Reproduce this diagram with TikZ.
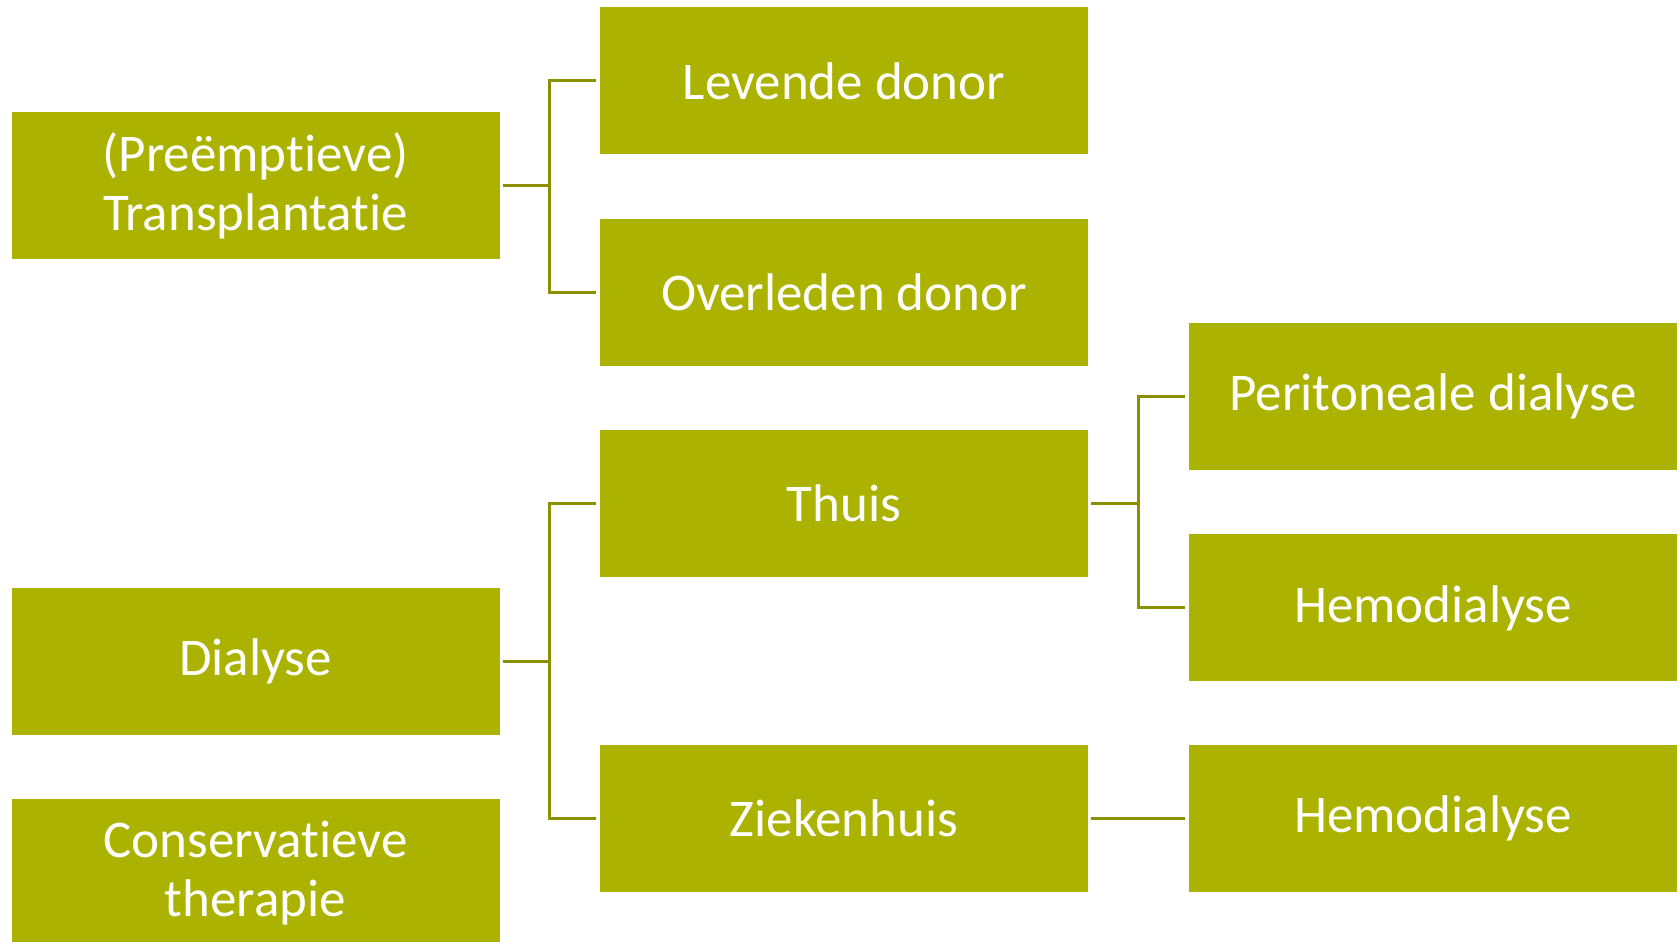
\documentclass[tikz,border=0pt]{standalone}
\usepackage{fontspec}
\setmainfont{Carlito}[Ligatures=NoCommon]
\usetikzlibrary{positioning}
\definecolor{boxgreen}{HTML}{ABB300}
\definecolor{linegreen}{HTML}{8A9000}

\begin{document}
\begin{tikzpicture}[x=1pt,y=1pt,node distance=64pt and 101pt,
    box/.style={rectangle,fill=boxgreen,text=white,minimum width=488pt,minimum height=147pt,
                inner sep=0pt,align=center,font=\fontsize{53}{59}\selectfont},
    link/.style={draw=linegreen,line width=3pt,shorten >=4pt,shorten <=3pt}]

    \useasboundingbox (0,0) rectangle (1679,942);

    \node[box] (lev) at (844,861) {Levende donor};
    \node[box] (ovl) [below=of lev] {Overleden donor};
    \node[box] (thuis) [below=of ovl] {Thuis};
    \node[box] (zkh) at (844,123.5) {Ziekenhuis};

    \node[box] (trans) at (255.5,756.5) {(Preëmptieve)\\Transplantatie};
    \node[box] (dial) at (255.5,280.5) {Dialyse};
    \node[box] (cons) [below=of dial] {Conservatieve\\therapie};

    \node[box] (peri) at (1433,545.5) {Peritoneale dialyse};
    \node[box] (hemo) [below=of peri] {Hemodialyse};
    \node[box] (hemozkh) at (1433,123.5) {Hemodialyse};

    \draw[link] (trans.east) -- ++(50pt,0) |- (lev.west);
    \draw[link] (trans.east) -- ++(50pt,0) |- (ovl.west);
    \draw[link] (dial.east) -- ++(50pt,0) |- (thuis.west);
    \draw[link] (dial.east) -- ++(50pt,0) |- (zkh.west);
    \draw[link] (thuis.east) -- ++(50pt,0) |- (peri.west);
    \draw[link] (thuis.east) -- ++(50pt,0) |- (hemo.west);
    \draw[link] (zkh.east) -- (hemozkh.west);

\end{tikzpicture}
\end{document}
